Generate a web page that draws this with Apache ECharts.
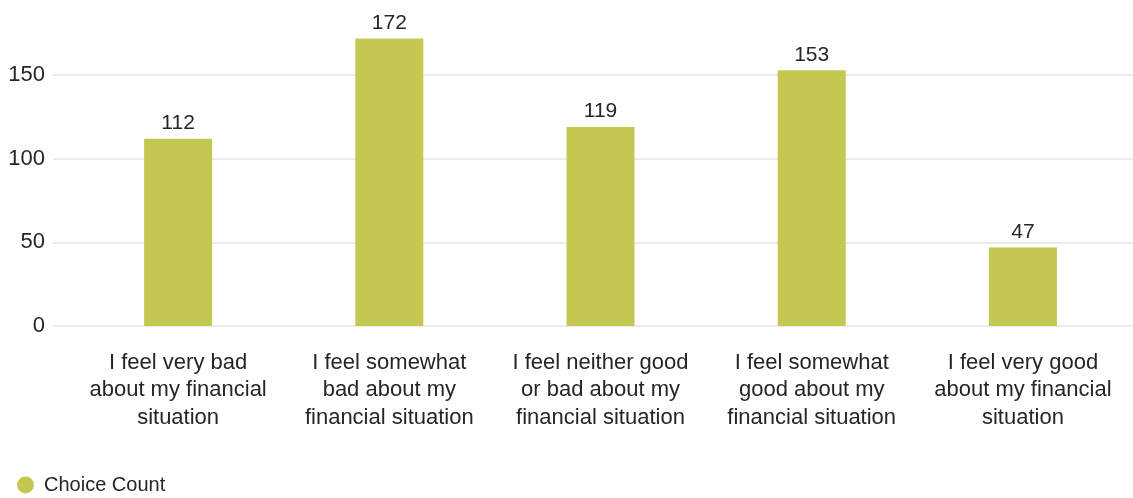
<!DOCTYPE html>
<html>
<head>
<meta charset="utf-8">
<script src="https://cdn.jsdelivr.net/npm/echarts@6/dist/echarts.min.js"></script>
<style>
  html, body { margin: 0; padding: 0; background: #ffffff; }
  #chart { width: 1133px; height: 498px; }
</style>
</head>
<body>
<div id="chart"></div>
<script>
// Survey answers and their counts
const categories = [
  'I feel very bad\nabout my financial\nsituation',
  'I feel somewhat\nbad about my\nfinancial situation',
  'I feel neither good\nor bad about my\nfinancial situation',
  'I feel somewhat\ngood about my\nfinancial situation',
  'I feel very good\nabout my financial\nsituation'
];
const choiceCount = [112, 172, 119, 153, 47];
const seriesName = 'Choice Count';

const FONT = '"Liberation Sans", Arial, Helvetica, sans-serif';
const TEXT = '#262626';
const BAR = '#c4c853';

const chart = echarts.init(document.getElementById('chart'));

// Two grids share the same vertical scale: grid 1 carries the wide gridlines and
// tick labels, grid 0 carries the bars and category labels.
const gridTop = 0, gridHeight = 326, yMax = 195;

chart.setOption({
  animation: false,
  textStyle: { fontFamily: FONT },
  legend: {
    left: 12,
    top: 470,
    icon: 'circle',
    itemWidth: 17,
    itemHeight: 17,
    textStyle: { fontFamily: FONT, fontSize: 20, color: TEXT, padding: [0, 0, 0, 5] },
    data: [seriesName]
  },
  grid: [
    { left: 72.5, right: 4.5, top: gridTop, height: gridHeight },
    { left: 53, right: 0, top: gridTop, height: gridHeight }
  ],
  xAxis: [
    {
      type: 'category',
      gridIndex: 0,
      data: categories,
      axisLine: { show: false },
      axisTick: { show: false },
      axisLabel: {
        interval: 0,
        margin: 23,
        fontFamily: FONT,
        fontSize: 22,
        lineHeight: 27.5,
        color: TEXT,
        align: 'center'
      }
    },
    {
      type: 'value',
      gridIndex: 1,
      show: false
    }
  ],
  yAxis: [
    {
      type: 'value',
      gridIndex: 0,
      min: 0,
      max: yMax,
      interval: 50,
      axisLine: { show: false },
      axisTick: { show: false },
      axisLabel: { show: false },
      splitLine: { show: false }
    },
    {
      type: 'value',
      gridIndex: 1,
      min: 0,
      max: yMax,
      interval: 50,
      axisLine: { show: false },
      axisTick: { show: false },
      axisLabel: {
        showMaxLabel: false,
        margin: 8,
        fontFamily: FONT,
        fontSize: 22,
        color: TEXT
      },
      splitLine: {
        show: true,
        showMaxLine: false,
        lineStyle: { color: '#ebebeb', width: 2 }
      }
    }
  ],
  series: [
    {
      name: seriesName,
      type: 'bar',
      xAxisIndex: 0,
      yAxisIndex: 0,
      data: choiceCount,
      barWidth: 68,
      itemStyle: { color: BAR },
      label: {
        show: true,
        position: 'top',
        distance: 5,
        fontFamily: FONT,
        fontSize: 21,
        color: TEXT
      }
    }
  ]
});
</script>
</body>
</html>
